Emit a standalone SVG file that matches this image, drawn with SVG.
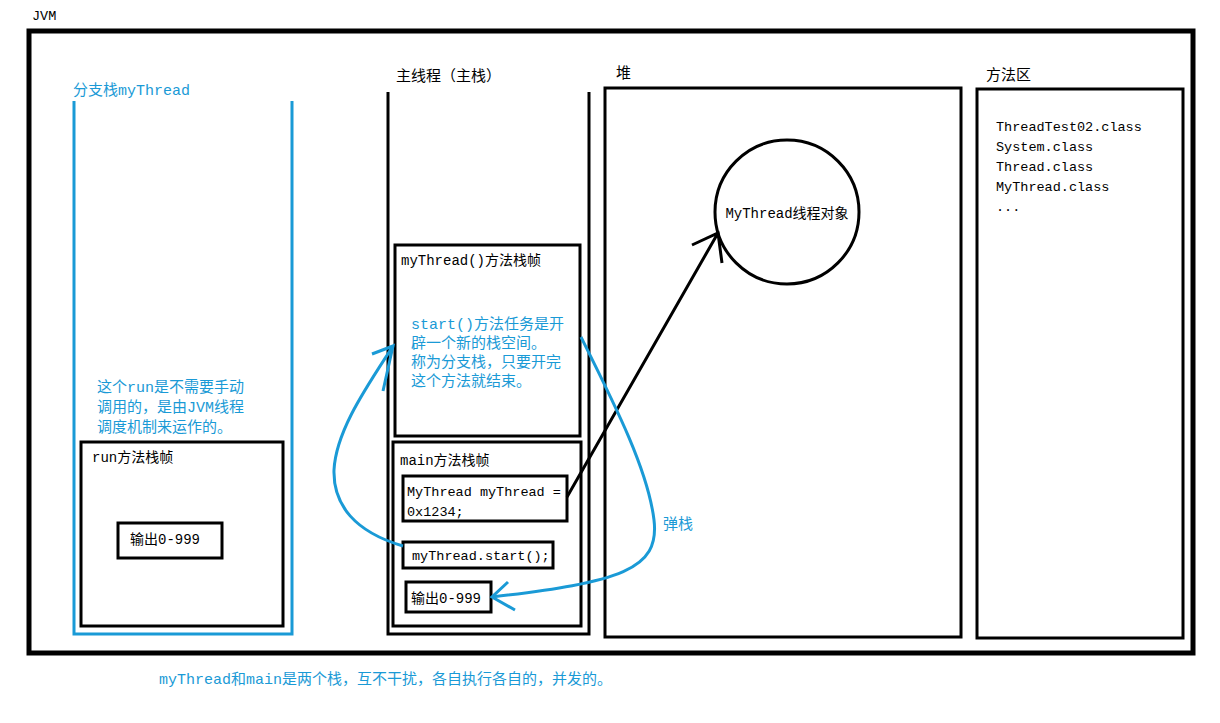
<svg xmlns="http://www.w3.org/2000/svg" width="1220" height="723" viewBox="0 0 1220 723">
<style>
.box{fill:none;stroke:#000;stroke-width:3}
.blueline{fill:none;stroke:#1a9ad6;stroke-width:3}
.t{font-family:"Liberation Mono","Noto Sans CJK SC",monospace;font-size:14px;fill:#000}
.m{font-family:"Liberation Mono","Noto Sans CJK SC",monospace;font-size:13.5px;fill:#000}
.b{font-family:"Liberation Mono","Noto Sans CJK SC",monospace;font-size:15px;fill:#1a9ad6}
.h{font-family:"Noto Sans CJK SC","Liberation Sans",sans-serif;font-size:15px;fill:#000}
</style>
<rect width="1220" height="723" fill="#fff"/>
<g id="jvm">
<rect x="29" y="31" width="1164" height="622" fill="none" stroke="#000" stroke-width="5"/>
<text class="m" x="32" y="20" font-size="12">JVM</text>
</g>
<g id="branch-stack">
<polyline class="blueline" points="74,101 74,634 292,634 292,101"/>
<text class="b" x="73" y="95" font-size="14">分支栈myThread</text>
<text class="b" x="97" y="392">这个run是不需要手动</text>
<text class="b" x="97" y="412">调用的，是由JVM线程</text>
<text class="b" x="97" y="432">调度机制来运作的。</text>
</g>
<g id="run-frame">
<rect class="box" x="81" y="442" width="202" height="184"/>
<text class="t" x="92" y="462">run方法栈帧</text>
</g>
<g id="run-output">
<rect class="box" x="118" y="523" width="104" height="35"/>
<text class="t" x="130" y="544">输出0-999</text>
</g>
<g id="main-stack">
<polyline class="box" points="388,92 388,634 589,634 589,92"/>
<text class="h" x="396" y="81">主线程（主栈）</text>
</g>
<g id="mythread-frame">
<rect class="box" x="395" y="245" width="185" height="191"/>
<text class="t" x="401" y="265">myThread()方法栈帧</text>
<text class="b" x="411" y="329">start()方法任务是开</text>
<text class="b" x="411" y="348">辟一个新的栈空间。</text>
<text class="b" x="411" y="367">称为分支栈，只要开完</text>
<text class="b" x="411" y="386">这个方法就结束。</text>
</g>
<g id="main-frame">
<rect class="box" x="393" y="442" width="188" height="184"/>
<text class="t" x="400" y="465">main方法栈帧</text>
</g>
<g id="new-mythread">
<rect class="box" x="403" y="476" width="164" height="45"/>
<text class="m" x="407" y="496">MyThread myThread =</text>
<text class="m" x="407" y="516">0x1234;</text>
</g>
<g id="start-call">
<rect class="box" x="403" y="542" width="150" height="26"/>
<text class="m" x="412" y="560">myThread.start();</text>
</g>
<g id="main-output">
<rect class="box" x="406" y="582" width="85" height="30"/>
<text class="t" x="411" y="603">输出0-999</text>
</g>
<g id="heap">
<rect class="box" x="605" y="88" width="356" height="549"/>
<text class="h" x="616" y="78">堆</text>
</g>
<g id="thread-object">
<circle class="box" cx="787" cy="212" r="72"/>
<text class="t" x="787" y="218" text-anchor="middle">MyThread线程对象</text>
</g>
<g id="method-area">
<rect class="box" x="977" y="89" width="206" height="549"/>
<text class="h" x="986" y="80">方法区</text>
<text class="m" x="996" y="131">ThreadTest02.class</text>
<text class="m" x="996" y="151">System.class</text>
<text class="m" x="996" y="171">Thread.class</text>
<text class="m" x="996" y="191">MyThread.class</text>
<text class="m" x="996" y="211">...</text>
</g>
<g id="connectors">
<path d="M567,497 L718,233 M692,245 L718,233 L722,263" fill="none" stroke="#000" stroke-width="3"/>
<path class="blueline" d="M403,546 C355,532 333,505 334,470 C336,430 368,385 393,346"/>
<path class="blueline" d="M372,354 L393,346 L383,391"/>
<path class="blueline" d="M581,337 C615,405 648,470 654,520 C660,570 620,582 492,597"/>
<path class="blueline" d="M508,582 L492,597 L515,610"/>
<text class="b" x="663" y="529">弹栈</text>
</g>
<g id="note">
<text class="b" x="159" y="684">myThread和main是两个栈，互不干扰，各自执行各自的，并发的。</text>
</g>
</svg>
